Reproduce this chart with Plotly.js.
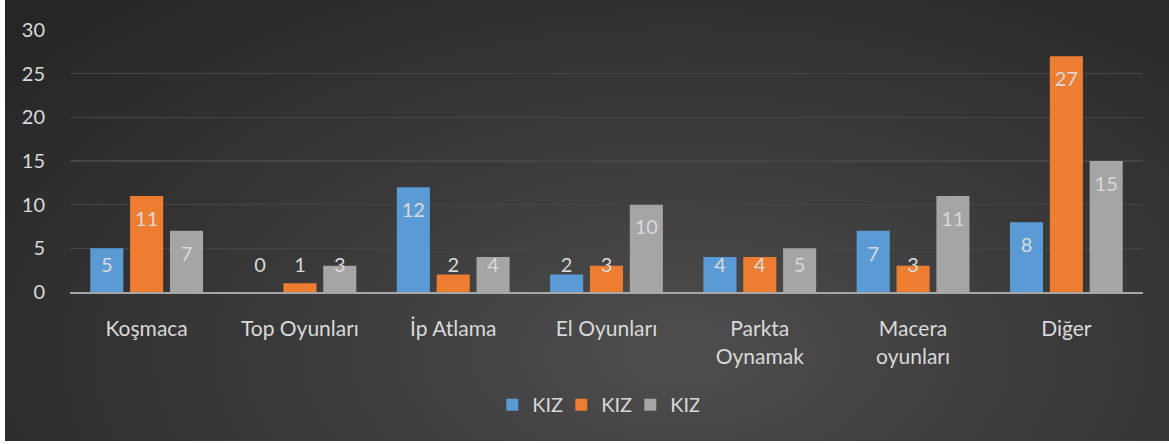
<!DOCTYPE html>
<html>
<head>
<meta charset="utf-8">
<script src="https://cdn.plot.ly/plotly-3.0.1.min.js"></script>
<style>
html,body{margin:0;padding:0;background:#ffffff;width:1169px;height:444px;overflow:hidden;}
#bg{position:absolute;left:5px;top:0;width:1164px;height:441px;
background:radial-gradient(ellipse 75% 110% at 58% 80%, #4e4e4e 0%, #3a3a3a 45%, #262626 100%);}
#chart{position:absolute;left:0;top:0;width:1169px;height:444px;}
</style>
</head>
<body>
<div id="bg"></div>
<div id="chart"></div>
<script>
const categories = ["Koşmaca", "Top Oyunları", "İp Atlama", "El Oyunları", "Parkta<br>Oynamak", "Macera<br>oyunları", "Diğer"];
const seriesNames = ["KIZ", "KIZ", "KIZ"];
const series1 = [5, 0, 12, 2, 4, 7, 8];
const series2 = [11, 1, 2, 3, 4, 3, 27];
const series3 = [7, 3, 4, 10, 5, 11, 15];
const yTicks = [0, 5, 10, 15, 20, 25, 30];

const colors = ["#5b9bd5", "#ed7d31", "#a5a5a5"];
const FONT = "Lato, 'Open Sans', sans-serif";

function bar(vals, i) {
  return {
    type: "bar",
    name: seriesNames[i],
    x: categories,
    y: vals,
    marker: {color: colors[i], line: {width: 0}},
    hoverinfo: "skip"
  };
}

// data labels: "inside end" for tall bars, resting on the axis for short bars
function labels(vals, i) {
  return {
    type: "scatter",
    mode: "markers+text",
    showlegend: false,
    x: categories,
    y: vals.map(v => v >= 6 ? v : 0),
    text: vals.map(String),
    textposition: vals.map(v => v >= 6 ? "bottom center" : "top center"),
    textfont: {family: FONT, size: 20, color: "#d9d9d9"},
    marker: {size: 22, color: "rgba(0,0,0,0)"},
    cliponaxis: false,
    hoverinfo: "skip"
  };
}

const data = [
  bar(series1, 0), bar(series2, 1), bar(series3, 2),
  labels(series1, 0), labels(series2, 1), labels(series3, 2)
];

const layout = {
  width: 1169, height: 444,
  paper_bgcolor: "rgba(0,0,0,0)",
  plot_bgcolor: "rgba(0,0,0,0)",
  margin: {l: 70, r: 26, t: 30, b: 152},
  barmode: "group",
  bargap: 0.22,
  bargroupgap: 0.17,
  scattermode: "group",
  scattergap: 0.22,
  font: {family: FONT, size: 20, color: "#d9d9d9"},
  showlegend: true,
  legend: {
    orientation: "h", x: 0.49, xanchor: "center", y: -0.43, yanchor: "middle",
    font: {family: FONT, size: 20, color: "#d9d9d9"},
    entrywidth: 24, entrywidthmode: "pixels",
    traceorder: "normal", bgcolor: "rgba(0,0,0,0)"
  },
  xaxis: {
    type: "category",
    tickfont: {family: FONT, size: 21, color: "#d9d9d9"},
    ticks: "outside", ticklen: 17, tickcolor: "rgba(0,0,0,0)",
    showgrid: false, zeroline: false,
    showline: true, linecolor: "#a6a6a6", linewidth: 2,
    fixedrange: true
  },
  yaxis: {
    range: [0, 30],
    tickvals: yTicks,
    ticktext: yTicks.map(String),
    tickfont: {family: FONT, size: 20, color: "#d9d9d9"},
    ticks: "outside", ticklen: 20, tickcolor: "rgba(0,0,0,0)",
    showgrid: true, gridcolor: "#454545", gridwidth: 1.5,
    zeroline: false, showline: false,
    fixedrange: true
  }
};

Plotly.newPlot("chart", data, layout, {displayModeBar: false, staticPlot: true});
</script>
</body>
</html>
